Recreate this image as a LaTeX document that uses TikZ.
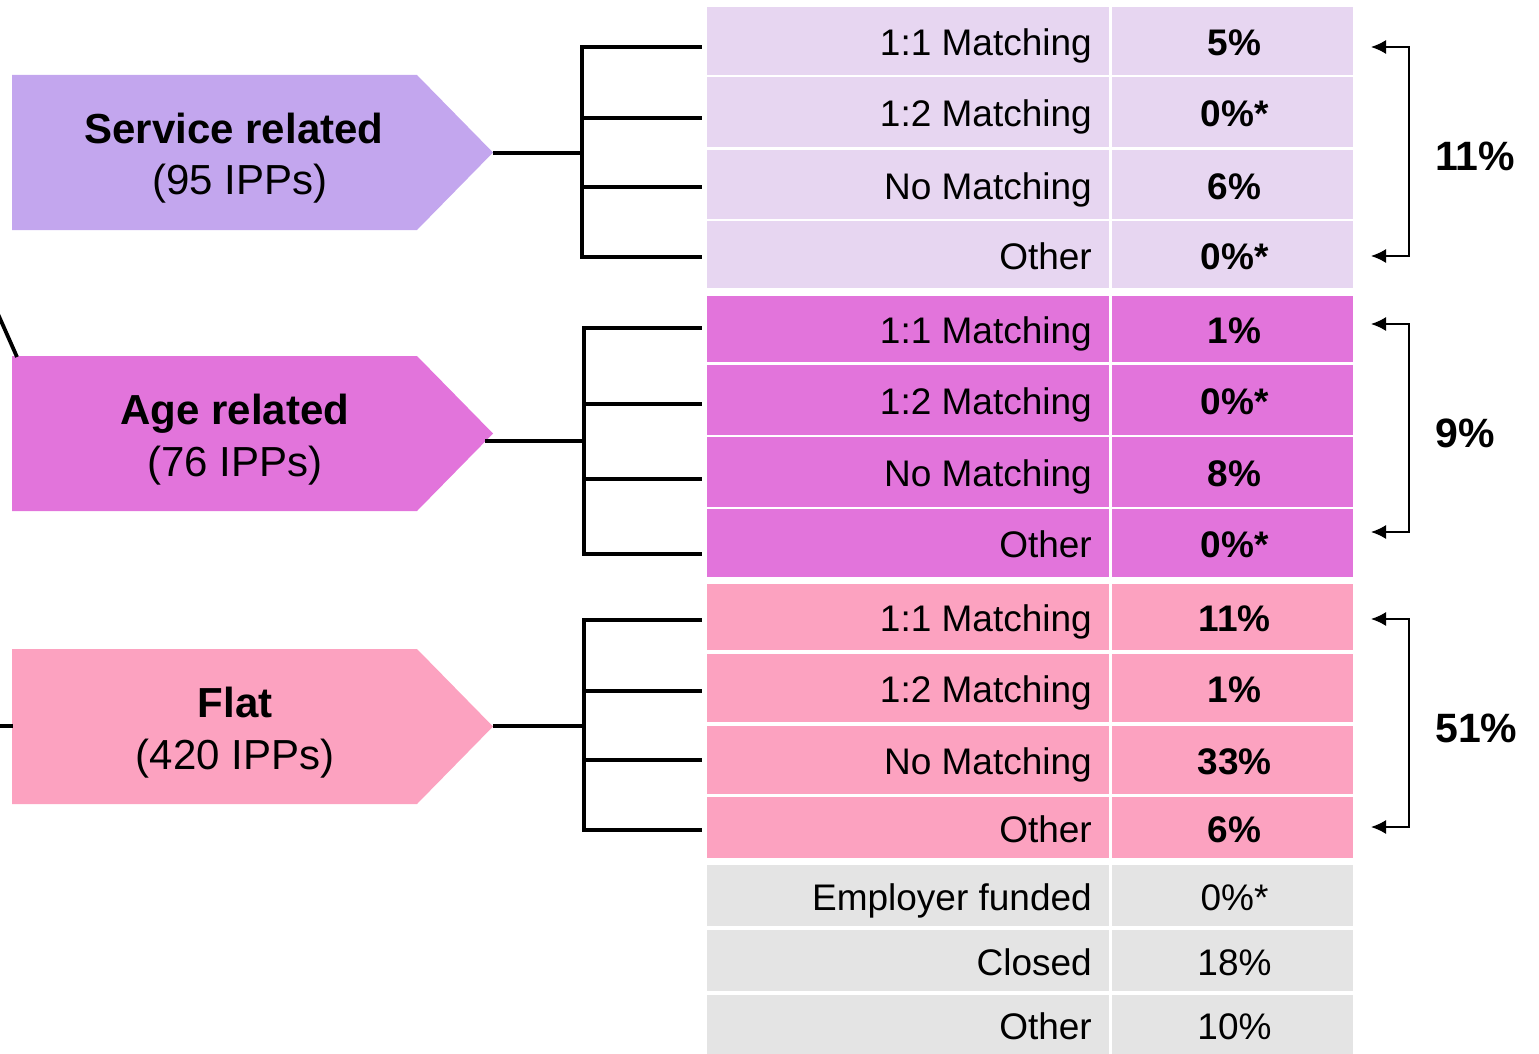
\documentclass[tikz,border=0pt]{standalone}
\usepackage{fontspec}
\setmainfont{Liberation Sans}
\usetikzlibrary{arrows.meta}
\definecolor{svcA}{RGB}{195,166,238}
\definecolor{svcT}{RGB}{231,214,241}
\definecolor{ageA}{RGB}{226,116,219}
\definecolor{flatA}{RGB}{252,162,192}
\definecolor{grayT}{RGB}{228,228,228}
\begin{document}
\begin{tikzpicture}[x=1pt,y=-1pt,
  conn/.style={line width=3.8pt},
  brk/.style={line width=1.6pt,{Latex[length=15pt,width=14pt]}-{Latex[length=15pt,width=14pt]}},
  cellL/.style={inner sep=0pt,minimum width=402pt},
  cellR/.style={inner sep=0pt,minimum width=241pt},
  labtxt/.style={anchor=base east,inner sep=0pt,font=\fontsize{37}{40}\selectfont},
  vb/.style={anchor=base,inner sep=0pt,font=\fontsize{37}{40}\selectfont\bfseries},
  vr/.style={anchor=base,inner sep=0pt,font=\fontsize{37}{40}\selectfont},
  arrtitle/.style={anchor=base,inner sep=0pt,font=\fontsize{42}{46}\selectfont\bfseries},
  arrsub/.style={anchor=base,inner sep=0pt,font=\fontsize{42}{46}\selectfont},
  sumtxt/.style={anchor=base west,inner sep=0pt,font=\fontsize{41}{44}\selectfont\bfseries}]
\useasboundingbox (0,0) rectangle (1539,1054);

% table cells
\foreach \t/\b/\lab/\val/\col/\vs [count=\i] in {
  7/75/1:1 Matching/5\%/svcT/vb,
  77/147/1:2 Matching/0\%*/svcT/vb,
  150/219/No Matching/6\%/svcT/vb,
  221/288/Other/0\%*/svcT/vb,
  296/362/1:1 Matching/1\%/ageA/vb,
  365/435/1:2 Matching/0\%*/ageA/vb,
  437/507/No Matching/8\%/ageA/vb,
  509/577/Other/0\%*/ageA/vb,
  584/650/1:1 Matching/11\%/flatA/vb,
  654/722/1:2 Matching/1\%/flatA/vb,
  726/794/No Matching/33\%/flatA/vb,
  797/858/Other/6\%/flatA/vb,
  865/926/Employer funded/0\%*/grayT/vr,
  930/991/Closed/18\%/grayT/vr,
  995/1054/Other/10\%/grayT/vr}{
  \node[cellL,fill=\col,minimum height={(\b-\t)*1pt}] (L\i) at (908,{(\t+\b)/2}) {};
  \node[cellR,fill=\col,minimum height={(\b-\t)*1pt}] (R\i) at (1232.5,{(\t+\b)/2}) {};
  \node[labtxt] (LT\i) at (1092,{(\t+\b)/2+14.5}) {\lab};
  \node[\vs] (RT\i) at (1234.5,{(\t+\b)/2+14.5}) {\val};
}

% arrow shapes
\fill[svcA] (12,75) -- (417,75) -- (493,152.5) -- (417,230) -- (12,230) -- cycle;
\fill[ageA] (12,356) -- (417,356) -- (493,433.5) -- (417,511) -- (12,511) -- cycle;
\fill[flatA] (12,649) -- (417,649) -- (493,726.5) -- (417,804) -- (12,804) -- cycle;
\node[arrtitle] (svcT1) at (234,143) {Service related};
\node[arrsub] (svcT2) at (240,194) {(95 IPPs)};
\node[arrtitle] (ageT1) at (235,424) {Age related};
\node[arrsub] (ageT2) at (235,476) {(76 IPPs)};
\node[arrtitle] (flatT1) at (235,717) {Flat};
\node[arrsub] (flatT2) at (235,769) {(420 IPPs)};
\coordinate (svcTip) at (493,153);
\coordinate (ageTip) at (485,441);
\coordinate (flatTip) at (493,726);

% connectors: service
\coordinate (sJ) at (582,153);
\draw[conn] (svcTip) -- (sJ);
\draw[conn] ([xshift=-5pt]L1.west|-0,47) -| (582,257) -- ([xshift=-5pt]L4.west|-0,257);
\draw[conn] (582,118) -- ([xshift=-5pt]L2.west|-0,118);
\draw[conn] (582,187) -- ([xshift=-5pt]L3.west|-0,187);
% age
\coordinate (aJ) at (584,441);
\draw[conn] (ageTip) -- (aJ);
\draw[conn] ([xshift=-5pt]L5.west|-0,328) -| (584,554) -- ([xshift=-5pt]L8.west|-0,554);
\draw[conn] (584,404) -- ([xshift=-5pt]L6.west|-0,404);
\draw[conn] (584,479) -- ([xshift=-5pt]L7.west|-0,479);
% flat
\coordinate (fJ) at (584,726);
\draw[conn] (flatTip) -- (fJ);
\draw[conn] ([xshift=-5pt]L9.west|-0,620) -| (584,830) -- ([xshift=-5pt]L12.west|-0,830);
\draw[conn] (584,691) -- ([xshift=-5pt]L10.west|-0,691);
\draw[conn] (584,760) -- ([xshift=-5pt]L11.west|-0,760);

% lines entering from the left
\coordinate (diagA) at (-6,305);
\coordinate (diagB) at (17,357);
\draw[conn] (diagA) -- (diagB);
\coordinate (flatInA) at (-2,726);
\coordinate (flatInB) at (13,726);
\draw[conn] (flatInA) -- (flatInB);

% brackets
\coordinate (bs1) at (1371,47); \coordinate (bs2) at (1371,256);
\draw[brk] (bs1) -| (1409,256) -- (bs2);
\coordinate (ba1) at (1371,324); \coordinate (ba2) at (1371,532);
\draw[brk] (ba1) -| (1409,532) -- (ba2);
\coordinate (bf1) at (1371,619); \coordinate (bf2) at (1371,827);
\draw[brk] (bf1) -| (1409,827) -- (bf2);
\node[sumtxt] (sumS) at (1435,170) {11\%};
\node[sumtxt] (sumA) at (1435,447) {9\%};
\node[sumtxt] (sumF) at (1435,742) {51\%};
\end{tikzpicture}
\end{document}
